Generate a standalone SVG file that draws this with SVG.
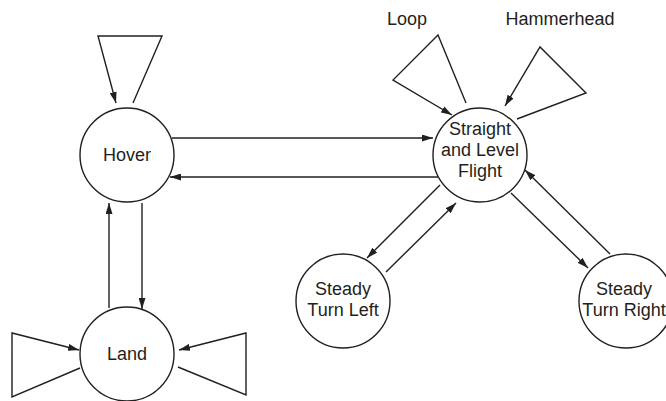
<svg xmlns="http://www.w3.org/2000/svg" width="666" height="401" viewBox="0 0 666 401">
  <defs>
    <marker id="arrow" viewBox="0 0 11 7" refX="11" refY="3.5" markerWidth="11" markerHeight="7" markerUnits="userSpaceOnUse" orient="auto">
      <path d="M0,0 L11,3.5 L0,7 Z" fill="#231f20"/>
    </marker>
    <style>
      .state { fill: #fff; stroke: #231f20; stroke-width: 1.4; }
      .edge { fill: none; stroke: #231f20; stroke-width: 1.4; marker-end: url(#arrow); }
      .label { font-family: "Liberation Sans", Arial, Helvetica, sans-serif; font-size: 18px; fill: #231f20; text-anchor: middle; }
    </style>
  </defs>
  <rect width="666" height="401" fill="#fff"/>

  <!-- transitions -->
  <g id="connectors">
    <polyline class="edge" points="133,103 162,36 98,36 116,103"/>
    <line class="edge" x1="172" y1="138" x2="433" y2="138"/>
    <line class="edge" x1="438" y1="177" x2="170" y2="177"/>
    <line class="edge" x1="142" y1="203" x2="142" y2="309"/>
    <line class="edge" x1="109" y1="308" x2="109" y2="203"/>
    <polyline class="edge" points="80,368 12,397 12,333 79,350"/>
    <polyline class="edge" points="178,367 246,395 246,333 179,350"/>
    <polyline class="edge" points="466,103 438,35 393,80 452,115"/>
    <polyline class="edge" points="517,119 586,93 540,47 505,106"/>
    <line class="edge" x1="440" y1="185" x2="367" y2="258"/>
    <line class="edge" x1="386" y1="272" x2="456" y2="203"/>
    <line class="edge" x1="511" y1="193" x2="588" y2="268"/>
    <line class="edge" x1="610" y1="254" x2="525" y2="170"/>
  </g>

  <!-- manoeuvre labels -->
  <g id="labels">
    <text class="label" x="407" y="25">Loop</text>
    <text class="label" x="560" y="25">Hammerhead</text>
  </g>

  <!-- states -->
  <g id="hover">
    <circle class="state" cx="127" cy="155" r="47"/>
    <text class="label" x="127" y="161">Hover</text>
  </g>
  <g id="land">
    <circle class="state" cx="127" cy="354" r="47"/>
    <text class="label" x="127" y="360">Land</text>
  </g>
  <g id="straight-level">
    <circle class="state" cx="480" cy="155" r="47"/>
    <text class="label" x="480" y="135">Straight</text>
    <text class="label" x="480" y="156">and Level</text>
    <text class="label" x="480" y="177">Flight</text>
  </g>
  <g id="turn-left">
    <circle class="state" cx="343" cy="301" r="47"/>
    <text class="label" x="343" y="295">Steady</text>
    <text class="label" x="343" y="316">Turn Left</text>
  </g>
  <g id="turn-right">
    <circle class="state" cx="626" cy="301" r="47"/>
    <text class="label" x="624" y="295">Steady</text>
    <text class="label" x="624" y="316">Turn Right</text>
  </g>
</svg>
